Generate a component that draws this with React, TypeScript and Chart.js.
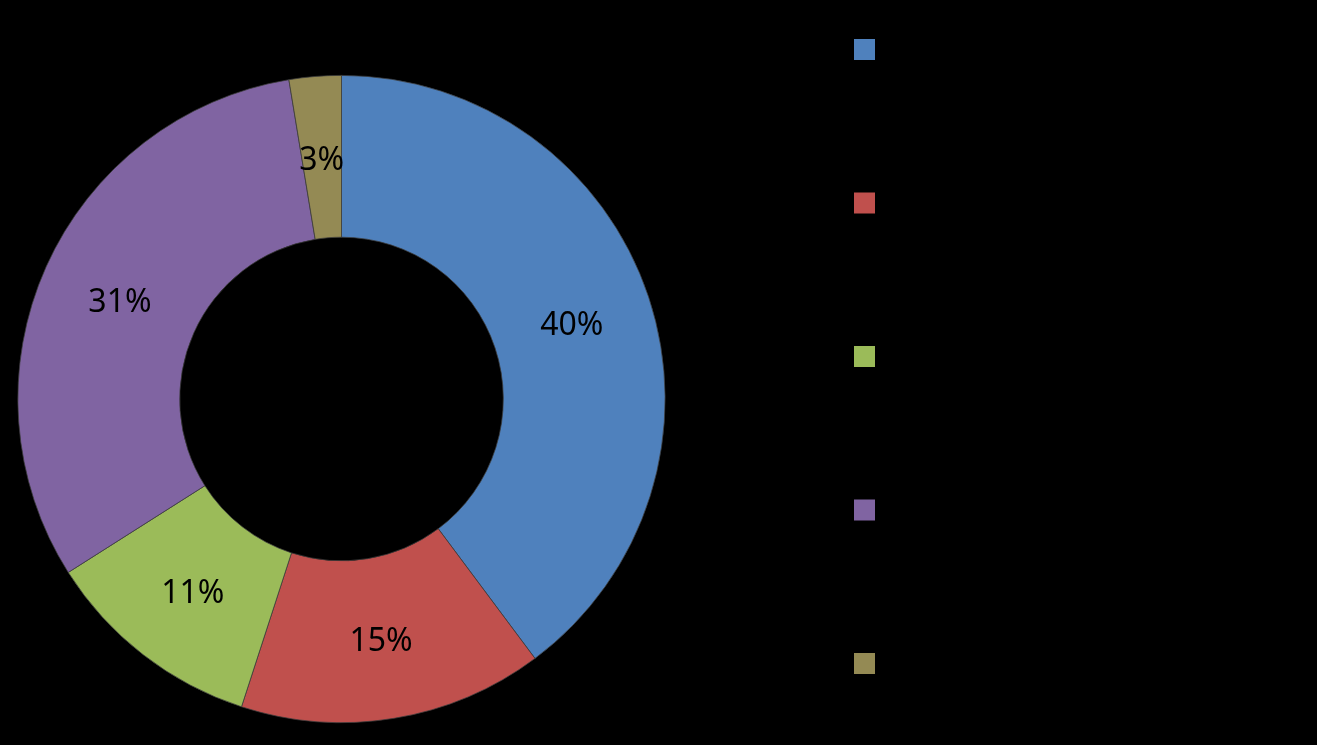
import React, { useEffect, useRef } from "react";
import { Chart, registerables } from "chart.js";

Chart.register(...registerables);

const categories = ["Category 1", "Category 2", "Category 3", "Category 4", "Category 5"];
const values = [39.8, 15.2, 11.0, 31.4, 2.6];
const colors = ["#4F81BD", "#C0504D", "#9BBB59", "#8064A2", "#948A54"];

const labelPlugin = {
  id: "pctLabels",
  afterDatasetsDraw(chart: any) {
    const ctx = chart.ctx;
    const meta = chart.getDatasetMeta(0);
    const data = chart.data.datasets[0].data as number[];
    const total = data.reduce((a, b) => a + b, 0);
    ctx.save();
    ctx.font = '32px "Noto Sans"';
    ctx.fillStyle = "#000";
    ctx.textAlign = "center";
    ctx.textBaseline = "middle";
    meta.data.forEach((arc: any, i: number) => {
      const p = arc.tooltipPosition();
      const pct = Math.round((data[i] / total) * 100);
      ctx.fillText(pct + "%", p.x, p.y + 3.5);
    });
    ctx.restore();
  },
};

const legendPlugin = {
  id: "customLegend",
  afterDraw(chart: any) {
    const ctx = chart.ctx;
    const bg = chart.data.datasets[0].backgroundColor as string[];
    const labels = chart.data.labels as string[];
    ctx.save();
    labels.forEach((lab, i) => {
      const y = 39 + i * 153.5;
      ctx.fillStyle = bg[i];
      ctx.fillRect(854, y, 21, 21);
      ctx.fillStyle = "#000";
      ctx.font = '24px "Noto Sans"';
      ctx.textBaseline = "middle";
      ctx.fillText(lab, 890, y + 10.5);
    });
    ctx.restore();
  },
};

export default function App() {
  const ref = useRef<HTMLCanvasElement>(null);
  useEffect(() => {
    document.body.style.margin = "0";
    document.body.style.background = "#000";
    const chart = new Chart(ref.current!, {
      type: "doughnut",
      data: {
        labels: categories,
        datasets: [
          {
            data: values,
            backgroundColor: colors,
            borderColor: "#3c3c3c",
            borderWidth: 0.75,
          },
        ],
      },
      options: {
        animation: false,
        responsive: false,
        cutout: "50%",
        layout: { padding: { left: 17, right: 651, top: 75, bottom: 22 } },
        plugins: { legend: { display: false }, tooltip: { enabled: false } },
      },
      plugins: [labelPlugin, legendPlugin],
    });
    return () => chart.destroy();
  }, []);
  return (
    <div style={{ width: 1317, height: 745, background: "#000" }}>
      <canvas ref={ref} width={1317} height={745} style={{ display: "block" }} />
    </div>
  );
}
